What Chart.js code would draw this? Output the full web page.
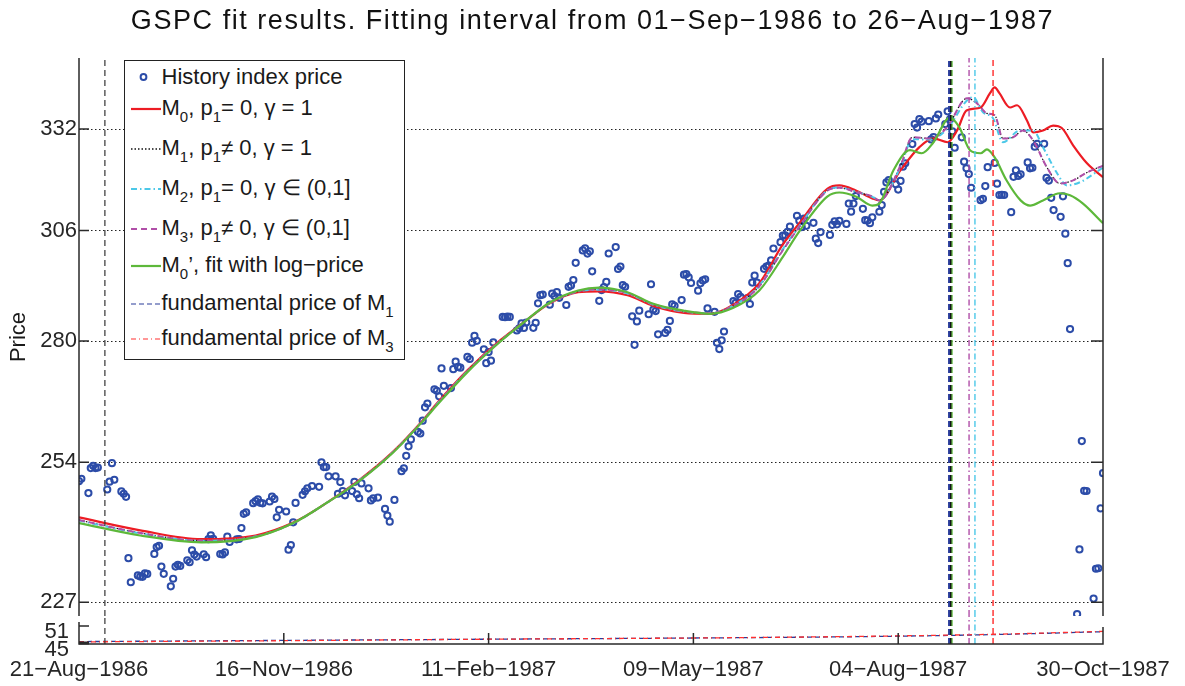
<!DOCTYPE html>
<html><head><meta charset="utf-8">
<script src="https://cdn.jsdelivr.net/npm/chart.js@4.4.1/dist/chart.umd.min.js"></script>
<style>
html,body{margin:0;padding:0;background:#fff;}
#wrap{position:relative;width:1185px;height:686px;overflow:hidden;font-family:"Liberation Sans",Arial,sans-serif;color:#1a1a1a;}
canvas{position:absolute;left:0;top:0;}
#title{position:absolute;left:0;width:1185px;top:4px;text-align:center;font-size:27px;line-height:32px;letter-spacing:1.55px;color:#111;}
#legend{position:absolute;left:124px;top:60px;width:281px;height:300px;box-sizing:border-box;border:1.5px solid #222;background:#fff;}
.row{position:absolute;left:0;height:24px;line-height:24px;font-size:22px;white-space:nowrap;}
.row svg{position:absolute;left:4.5px;top:0;}
.row span{position:absolute;left:36.5px;top:0;}
sub{font-size:15px;vertical-align:-7px;line-height:0;}
</style></head>
<body>
<div id="wrap">
<canvas id="cMain" width="1185" height="686"></canvas>
<canvas id="cLow" width="1185" height="686"></canvas>
<div id="title">GSPC fit results. Fitting interval from 01−Sep−1986 to 26−Aug−1987</div>
<div id="legend">
 <div class="row" style="top:3.5px"><svg width="32" height="24"><circle cx="13.5" cy="12" r="2.9" fill="none" stroke="#2c4ca8" stroke-width="2"/></svg><span>History index price</span></div>
 <div class="row" style="top:34.5px"><svg width="32" height="24"><line x1="1" y1="13" x2="31" y2="13" stroke="#ed1c24" stroke-width="2.2"/></svg><span>M<sub>0</sub>, p<sub>1</sub>= 0, γ = 1</span></div>
 <div class="row" style="top:74.5px"><svg width="32" height="24"><line x1="1" y1="13" x2="31" y2="13" stroke="#111" stroke-width="1.5" stroke-dasharray="1.5 2"/></svg><span>M<sub>1</sub>, p<sub>1</sub>≠ 0, γ = 1</span></div>
 <div class="row" style="top:114.5px"><svg width="32" height="24"><line x1="1" y1="13" x2="31" y2="13" stroke="#4cc8e8" stroke-width="2" stroke-dasharray="6 3 1.5 3"/></svg><span>M<sub>2</sub>, p<sub>1</sub>= 0, γ ∈ (0,1]</span></div>
 <div class="row" style="top:154.5px"><svg width="32" height="24"><line x1="1" y1="13" x2="31" y2="13" stroke="#b04fa8" stroke-width="2" stroke-dasharray="6 4"/></svg><span>M<sub>3</sub>, p<sub>1</sub>≠ 0, γ ∈ (0,1]</span></div>
 <div class="row" style="top:191.5px"><svg width="32" height="24"><line x1="1" y1="13" x2="31" y2="13" stroke="#5db83a" stroke-width="2.2"/></svg><span>M<sub>0</sub>’, fit with log−price</span></div>
 <div class="row" style="top:229.5px"><svg width="32" height="24"><line x1="1" y1="13" x2="31" y2="13" stroke="#2a3d9a" stroke-width="1.2" stroke-dasharray="5 3"/></svg><span>fundamental price of M<sub>1</sub></span></div>
 <div class="row" style="top:264.5px"><svg width="32" height="24"><line x1="1" y1="13" x2="31" y2="13" stroke="#ff3030" stroke-width="1.2" stroke-dasharray="5 3 1 3"/></svg><span>fundamental price of M<sub>3</sub></span></div>
</div>
</div>
<script>
// ---------- data ----------
const dates = [
'1986-08-21','1986-08-22','1986-08-25','1986-08-26','1986-08-27','1986-08-28','1986-08-29',
'1986-09-02','1986-09-03','1986-09-04','1986-09-05','1986-09-08','1986-09-09','1986-09-10','1986-09-11','1986-09-12','1986-09-15','1986-09-16','1986-09-17','1986-09-18','1986-09-19','1986-09-22','1986-09-23','1986-09-24','1986-09-25','1986-09-26','1986-09-29','1986-09-30',
'1986-10-01','1986-10-02','1986-10-03','1986-10-06','1986-10-07','1986-10-08','1986-10-09','1986-10-10','1986-10-13','1986-10-14','1986-10-15','1986-10-16','1986-10-17','1986-10-20','1986-10-21','1986-10-22','1986-10-23','1986-10-24','1986-10-27','1986-10-28','1986-10-29','1986-10-30','1986-10-31',
'1986-11-03','1986-11-04','1986-11-05','1986-11-06','1986-11-07','1986-11-10','1986-11-11','1986-11-12','1986-11-13','1986-11-14','1986-11-17','1986-11-18','1986-11-19','1986-11-20','1986-11-21','1986-11-24','1986-11-25','1986-11-26','1986-11-28',
'1986-12-01','1986-12-02','1986-12-03','1986-12-04','1986-12-05','1986-12-08','1986-12-09','1986-12-10','1986-12-11','1986-12-12','1986-12-15','1986-12-16','1986-12-17','1986-12-18','1986-12-19','1986-12-22','1986-12-23','1986-12-24','1986-12-26','1986-12-29','1986-12-30','1986-12-31',
'1987-01-02','1987-01-05','1987-01-06','1987-01-07','1987-01-08','1987-01-09','1987-01-12','1987-01-13','1987-01-14','1987-01-15','1987-01-16','1987-01-19','1987-01-20','1987-01-21','1987-01-22','1987-01-23','1987-01-26','1987-01-27','1987-01-28','1987-01-29','1987-01-30',
'1987-02-02','1987-02-03','1987-02-04','1987-02-05','1987-02-06','1987-02-09','1987-02-10','1987-02-11','1987-02-12','1987-02-13','1987-02-17','1987-02-18','1987-02-19','1987-02-20','1987-02-23','1987-02-24','1987-02-25','1987-02-26','1987-02-27',
'1987-03-02','1987-03-03','1987-03-04','1987-03-05','1987-03-06','1987-03-09','1987-03-10','1987-03-11','1987-03-12','1987-03-13','1987-03-16','1987-03-17','1987-03-18','1987-03-19','1987-03-20','1987-03-23','1987-03-24','1987-03-25','1987-03-26','1987-03-27','1987-03-30','1987-03-31',
'1987-04-01','1987-04-02','1987-04-03','1987-04-06','1987-04-07','1987-04-08','1987-04-09','1987-04-10','1987-04-13','1987-04-14','1987-04-15','1987-04-16','1987-04-20','1987-04-21','1987-04-22','1987-04-23','1987-04-24','1987-04-27','1987-04-28','1987-04-29','1987-04-30',
'1987-05-01','1987-05-04','1987-05-05','1987-05-06','1987-05-07','1987-05-08','1987-05-11','1987-05-12','1987-05-13','1987-05-14','1987-05-15','1987-05-18','1987-05-19','1987-05-20','1987-05-21','1987-05-22','1987-05-26','1987-05-27','1987-05-28','1987-05-29',
'1987-06-01','1987-06-02','1987-06-03','1987-06-04','1987-06-05','1987-06-08','1987-06-09','1987-06-10','1987-06-11','1987-06-12','1987-06-15','1987-06-16','1987-06-17','1987-06-18','1987-06-19','1987-06-22','1987-06-23','1987-06-24','1987-06-25','1987-06-26','1987-06-29','1987-06-30',
'1987-07-01','1987-07-02','1987-07-06','1987-07-07','1987-07-08','1987-07-09','1987-07-10','1987-07-13','1987-07-14','1987-07-15','1987-07-16','1987-07-17','1987-07-20','1987-07-21','1987-07-22','1987-07-23','1987-07-24','1987-07-27','1987-07-28','1987-07-29','1987-07-30','1987-07-31',
'1987-08-03','1987-08-04','1987-08-05','1987-08-06','1987-08-07','1987-08-10','1987-08-11','1987-08-12','1987-08-13','1987-08-14','1987-08-17','1987-08-18','1987-08-19','1987-08-20','1987-08-21','1987-08-24','1987-08-25','1987-08-26','1987-08-27','1987-08-28','1987-08-31',
'1987-09-01','1987-09-02','1987-09-03','1987-09-04','1987-09-08','1987-09-09','1987-09-10','1987-09-11','1987-09-14','1987-09-15','1987-09-16','1987-09-17','1987-09-18','1987-09-21','1987-09-22','1987-09-23','1987-09-24','1987-09-25','1987-09-28','1987-09-29','1987-09-30',
'1987-10-01','1987-10-02','1987-10-05','1987-10-06','1987-10-07','1987-10-08','1987-10-09','1987-10-12','1987-10-13','1987-10-14','1987-10-15','1987-10-16','1987-10-19','1987-10-20','1987-10-21','1987-10-22','1987-10-23','1987-10-26','1987-10-27','1987-10-28','1987-10-29','1987-10-30'];
const closes = [
250.19,250.67,247.81,252.84,253.30,252.84,252.93,
248.52,250.08,253.83,250.47,248.14,247.67,247.06,235.18,230.67,231.94,231.72,231.68,232.31,232.21,235.98,237.28,237.54,233.60,232.23,229.91,231.32,
233.60,233.92,233.71,234.78,234.41,236.68,235.85,235.48,235.91,235.37,238.80,239.53,238.84,235.97,235.88,236.26,239.28,238.26,238.77,238.83,240.94,243.71,243.98,
245.80,246.20,246.58,245.87,245.77,246.13,247.08,246.64,243.02,244.50,244.16,236.78,237.66,242.05,245.86,247.45,248.17,248.77,249.22,
249.05,254.00,253.04,253.04,251.17,251.16,247.67,250.01,248.21,247.35,248.21,250.04,247.56,246.78,249.73,248.75,246.34,246.75,246.92,244.67,243.37,242.17,
246.45,252.19,252.78,255.33,257.28,258.73,260.30,259.95,262.64,265.49,266.28,269.34,269.04,267.84,273.91,270.10,269.61,273.75,275.40,274.24,274.08,
276.45,275.99,279.64,281.16,280.04,278.16,275.07,277.54,275.62,279.70,285.49,285.42,285.57,285.48,282.38,282.88,284.00,282.96,284.20,
283.00,284.12,288.62,290.52,290.66,288.30,290.86,290.31,291.22,289.89,288.23,292.47,292.78,294.08,298.17,301.16,301.64,300.38,300.93,296.13,289.20,291.70,
292.39,293.63,300.41,301.95,296.69,297.26,292.86,292.49,285.62,279.16,284.44,286.91,286.09,293.07,287.19,286.82,281.52,281.83,282.51,284.57,288.36,
288.03,289.36,295.34,295.47,294.71,293.37,291.57,293.30,293.98,294.24,287.43,286.65,279.62,278.21,280.17,282.16,289.11,288.73,290.76,290.10,
289.83,288.46,293.47,295.09,293.45,296.72,297.28,297.47,298.73,301.62,303.14,304.76,304.81,305.69,306.97,309.65,308.43,306.86,308.96,307.16,307.90,304.00,
302.94,305.63,304.92,307.40,308.29,307.52,308.37,307.63,312.70,310.68,312.70,314.59,311.39,308.55,308.47,307.81,309.27,310.65,312.33,315.65,318.05,318.66,
317.57,316.23,318.45,322.10,323.00,328.00,333.33,332.39,334.65,333.99,334.11,329.25,329.83,334.84,335.90,333.33,336.77,334.57,331.38,327.04,329.80,
323.40,321.68,320.21,316.70,313.56,313.92,317.13,321.98,323.08,317.74,314.86,314.93,314.86,310.54,319.50,321.19,319.72,320.16,323.20,321.69,321.83,
327.33,328.07,328.08,319.22,318.54,314.16,311.07,309.39,314.52,305.23,298.08,282.70,224.84,236.83,258.38,248.25,248.22,227.67,233.19,233.28,244.77,251.79];

// fitted model curves (day offset from 21-Aug-1986, price)
const m0Days = [0,26,52,75,91,105,119,133,146,152,165,179,190,200,212,221,233,244,257,268,278,289,299,306,318,323,330,337,340,349,357,363,369,373,377,383,387,389,391,395.5,398.5,402.7,405.3,409.5,413.8,417.6,422.3,428.2,435];
const m0Price = [243.0,240.5,238.8,239.5,242.0,245.8,250.4,256.0,262.7,266.3,273.5,280.2,284.7,288.6,291.2,291.4,290.5,288.0,286.4,286.2,288.3,293.3,302.6,307.8,316.5,317.3,316.0,314.0,313.5,321.2,327.2,329.5,328.5,331.6,337.0,337.8,341.7,343.3,341.7,337.8,338.4,334.3,331.1,331.6,332.9,332.2,327.7,323.0,319.4];
const m1Days = [0,26,52,75,91,105,119,133,146,152,165,179,190,200,212,221,233,244,257,268,278,289,299,306,318,323,330,337,340,349,354,361.5,368.7,377.2,381.5,385.7,389,392.5,396.8,401,405.3,411.2,416.7,422.3,428.2,435];
const m1Price = [242.5,240.0,238.5,239.3,241.9,245.8,250.3,255.9,262.6,266.1,273.3,280.0,284.7,288.7,291.4,291.9,291.0,288.4,286.8,286.3,288.0,292.6,301.2,306.9,316.0,316.7,315.6,314.5,313.5,322.4,329.8,329.5,332.4,340.3,338.9,336.2,335.7,329.5,329.8,331.6,329.0,321.9,317.8,318.6,320.6,322.4];
const m2Days = [0,26,52,75,91,105,119,133,146,152,165,179,190,200,212,221,233,244,257,268,278,289,299,306,318,323,330,337,340,349,354,361.5,368.7,377.2,379.8,384,388.3,392.5,399.7,405.3,409.5,415.5,419.7,425.2,435];
const m2Price = [242.4,239.9,238.5,239.3,241.9,245.8,250.3,255.9,262.6,266.1,273.3,280.0,284.7,288.7,291.4,291.8,290.9,288.3,286.7,286.3,288.1,292.8,301.5,307.1,316.1,316.8,315.7,314.4,313.6,322.0,329.3,329.2,332.0,339.7,340.6,336.5,334.9,328.5,331.6,331.6,327.2,320.4,317.3,318.1,321.9];
const m3Days = [0,26,52,75,91,105,119,133,146,152,165,179,190,200,212,221,233,244,257,268,278,289,299,306,318,323,330,337,340,349,354,361.5,368.7,377.2,381.5,385.7,389,392.5,396.8,401,405.3,411.2,416.7,422.3,428.2,435];
const m3Price = [242.5,240.0,238.5,239.3,241.9,245.8,250.3,255.9,262.6,266.1,273.3,280.0,284.7,288.7,291.4,291.9,291.0,288.4,286.8,286.3,288.0,292.6,301.2,306.9,316.0,316.7,315.6,314.5,313.5,322.4,329.8,329.5,332.4,340.3,338.9,336.2,335.7,329.5,329.8,331.6,329.0,321.9,317.8,318.6,320.6,322.4];
const m0LogDays = [0,26,52,75,91,105,119,133,146,152,165,179,190,200,212,221,233,244,257,268,278,289,299,306,318,323,330,337,340,346,353,358,363,370,374,378.5,383,385.7,389,394,400,404,409.5,416.7,421,426.5,435];
const m0LogPrice = [241.9,239.5,238.2,239.2,241.9,245.8,250.2,255.8,262.5,265.9,273.1,279.9,284.7,288.8,291.6,292.3,291.2,288.5,286.9,286.2,287.6,291.6,299.6,305.8,314.5,315.5,314.5,312.2,312.7,321.2,326.4,325.6,328.5,335.1,332.4,326.4,325.6,326.6,324.5,318.6,313.5,312.2,313.5,315.3,314.8,312.7,307.8];

// fundamental prices (lower panel)
const fundDays = [0,87,174,261,348,392,435];
const fundM1 = [45.8,46.2,46.6,47.0,47.6,48.2,49.1];
const fundM3 = [45.7,46.1,46.6,47.0,47.7,48.3,49.2];

// vertical markers (days): fit start, fit end, critical times
const vlineNames = ['fitStart','tcM1','fitEnd','tcM0log','tcM3','tcM2','tcM0'];
const vlineDays  = [11, 369.6, 370.1, 370.8, 378.1, 380.6, 388.3];

// axes
const xTickDays = [0,87,174,261,348,435];
const xTickLabels = ['21−Aug−1986','16−Nov−1986','11−Feb−1987','09−May−1987','04−Aug−1987','30−Oct−1987'];
const yTicksMain = [227,254,280,306,332];
const yTicksLow = [45,51];
const mainRange = [224.5, 351.5];
const lowRange = [45, 54.33];
const xRange = [0, 435];

// ---------- helpers ----------
const DAY0 = Date.UTC(1986,7,21);
const toDay = s => { const [y,m,d] = s.split('-').map(Number); return (Date.UTC(y,m-1,d)-DAY0)/86400000; };
const pts = (xs, ys) => xs.map((x,i)=>({x, y: ys[i]}));
const FONT = "'Liberation Sans', Arial, sans-serif";
Chart.defaults.font.family = FONT;

const vStyle = {
  fitStart:{color:'#333', w:1.2, dash:[6,4]},
  tcM1:{color:'#2a3d9a', w:2, dash:[6,3]},
  fitEnd:{color:'#111', w:2.4, dash:[6,3]},
  tcM0log:{color:'#5db83a', w:1.6, dash:[6,3]},
  tcM3:{color:'#b04fa8', w:1.4, dash:[6,3,1.5,3]},
  tcM2:{color:'#4cc8e8', w:1.4, dash:[6,3,1.5,3]},
  tcM0:{color:'#ff2a2a', w:1.4, dash:[6,4]}
};
function vlineSets(range){
  return vlineNames.map((n,i)=>({
    data: [{x:vlineDays[i], y:range[0]},{x:vlineDays[i], y:range[1]}],
    borderColor: vStyle[n].color, borderWidth: vStyle[n].w, borderDash: vStyle[n].dash,
    pointRadius:0, fill:false, order: 0
  }));
}

const mainAxes = {
  id:'mainAxes',
  afterDatasetsDraw(chart){
    const {ctx, chartArea:a, scales:{y}} = chart;
    ctx.save(); ctx.strokeStyle='#2a2a2a'; ctx.lineWidth=1.5; ctx.setLineDash([]);
    ctx.beginPath();
    ctx.moveTo(a.left,a.top); ctx.lineTo(a.left,a.bottom);
    ctx.moveTo(a.right,a.top); ctx.lineTo(a.right,a.bottom);
    for (const v of yTicksMain){ const p=y.getPixelForValue(v);
      ctx.moveTo(a.left,p); ctx.lineTo(a.left+10,p); ctx.moveTo(a.right,p); ctx.lineTo(a.right-12,p); }
    ctx.stroke(); ctx.restore();
  }
};
const lowAxes = {
  id:'lowAxes',
  afterDatasetsDraw(chart){
    const {ctx, chartArea:a, scales:{x,y}} = chart;
    ctx.save(); ctx.strokeStyle='#2a2a2a'; ctx.lineWidth=1.5; ctx.setLineDash([]);
    ctx.beginPath();
    ctx.moveTo(a.left,a.top+6); ctx.lineTo(a.left,a.bottom);
    ctx.lineTo(a.right,a.bottom); ctx.lineTo(a.right,a.top+11);
    for (const v of yTicksLow){ const p=y.getPixelForValue(v); ctx.moveTo(a.left,p); ctx.lineTo(a.left+10,p); }
    for (const d of xTickDays){ const p=x.getPixelForValue(d); ctx.moveTo(p,a.bottom); ctx.lineTo(p,a.bottom-11); }
    ctx.stroke();
    ctx.lineWidth=3; ctx.beginPath(); ctx.moveTo(a.left,a.bottom-1); ctx.lineTo(a.left+10,a.bottom-1); ctx.stroke();
    ctx.restore();
  }
};

const curve = (xs, ys, color, w, dash, order) => ({
  data: pts(xs, ys), borderColor: color, borderWidth: w, borderDash: dash,
  pointRadius: 0, fill: false, cubicInterpolationMode: 'monotone', order
});

new Chart(document.getElementById('cMain'), {
  type:'line',
  data:{ datasets:[
    ...vlineSets(mainRange),
    curve(m0LogDays, m0LogPrice, '#5db83a', 2.2, [], 1),
    curve(m3Days, m3Price, '#b04fa8', 2, [6,4], 2),
    curve(m2Days, m2Price, '#4cc8e8', 2, [6,3,1.5,3], 3),
    curve(m1Days, m1Price, '#111', 1.2, [1.5,2], 4),
    curve(m0Days, m0Price, '#ed1c24', 2.2, [], 5),
    { data: dates.map((s,i)=>({x:toDay(s), y:closes[i]})), showLine:false,
      pointRadius:3.1, pointBorderWidth:2, pointBorderColor:'#2c4ca8', pointBackgroundColor:'rgba(255,255,255,0)', order:6 }
  ]},
  options:{
    responsive:false, animation:false, devicePixelRatio:1,
    layout:{padding:{left:0,right:82,top:58,bottom:70}},
    plugins:{legend:{display:false}, tooltip:{enabled:false}, title:{display:false}},
    scales:{
      x:{type:'linear', min:xRange[0], max:xRange[1], display:false},
      y:{type:'logarithmic', min:mainRange[0], max:mainRange[1],
         afterFit: s=>{ s.width = 79; },
         afterBuildTicks: s=>{ s.ticks = yTicksMain.map(v=>({value:v})); },
         ticks:{ autoSkip:false, callback: v=>String(Math.round(v)), font:{size:22}, color:'#262626', padding:2 },
         grid:{ color:'#222', lineWidth:1, drawTicks:false },
         border:{ display:false, dash:[1.5,2.5] },
         title:{ display:true, text:'Price', font:{size:22}, color:'#1a1a1a', padding:{top:6,bottom:0} }
      }
    }
  },
  plugins:[mainAxes]
});

new Chart(document.getElementById('cLow'), {
  type:'line',
  data:{ datasets:[
    ...vlineSets(lowRange),
    { data: pts(fundDays, fundM3), borderColor:'#ff3030', borderWidth:1.3, borderDash:[5,3,1,3], pointRadius:0, fill:false, cubicInterpolationMode:'monotone', order:1 },
    { data: pts(fundDays, fundM1), borderColor:'#2a3d9a', borderWidth:1.3, borderDash:[5,3], pointRadius:0, fill:false, cubicInterpolationMode:'monotone', order:2 }
  ]},
  options:{
    responsive:false, animation:false, devicePixelRatio:1,
    layout:{padding:{left:0,right:82,top:616,bottom:0}},
    plugins:{legend:{display:false}, tooltip:{enabled:false}},
    scales:{
      x:{type:'linear', min:xRange[0], max:xRange[1],
         afterFit: s=>{ s.height = 42; },
         afterBuildTicks: s=>{ s.ticks = xTickDays.map(v=>({value:v})); },
         ticks:{ autoSkip:false, maxRotation:0, minRotation:0, callback:(v,i)=>xTickLabels[i], font:{size:22}, color:'#262626', padding:5 },
         grid:{display:false}, border:{display:false}},
      y:{type:'linear', min:lowRange[0], max:lowRange[1],
         afterFit: s=>{ s.width = 79; },
         afterBuildTicks: s=>{ s.ticks = yTicksLow.map(v=>({value:v})); },
         ticks:{ autoSkip:false, callback: v=>String(v), font:{size:22}, color:'#262626', padding:2, labelOffset:6 },
         grid:{display:false}, border:{display:false}}
    }
  },
  plugins:[lowAxes]
});
</script>
</body></html>
